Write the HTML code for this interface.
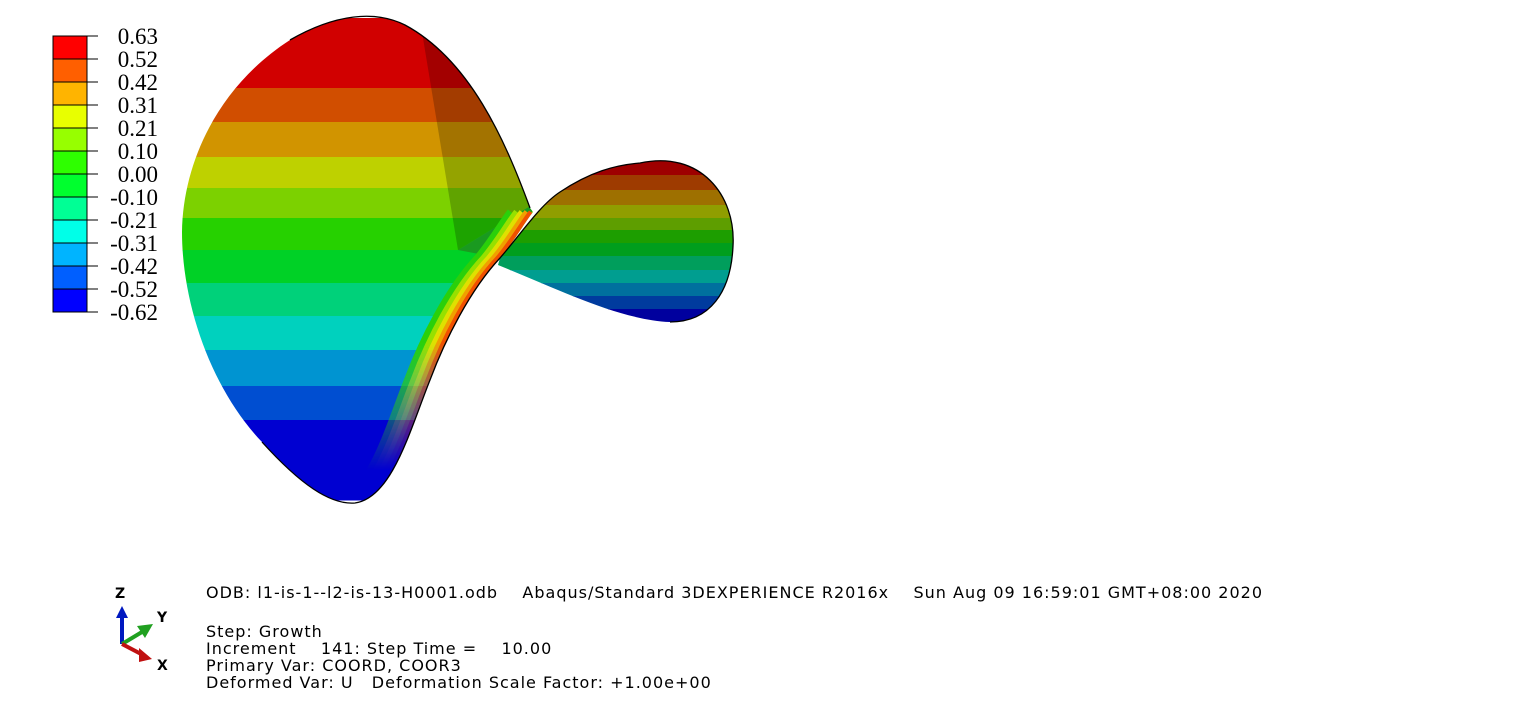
<!DOCTYPE html>
<html><head><meta charset="utf-8"><style>
body{margin:0;background:#fff;width:1526px;height:706px;overflow:hidden;position:relative;font-family:"DejaVu Sans",Verdana,sans-serif}
.info{position:absolute;font-size:16px;letter-spacing:1px;color:#000;white-space:pre;line-height:17px}
</style></head><body>
<svg id="plot" width="1526" height="706" style="position:absolute;left:0;top:0">
<defs>
<clipPath id="leftClip"><path d="M 530,208 C 505,140 470,60 405,25 C 375,10 335,14 290,40 C 220,85 183,160 182,232 C 182,305 212,390 262,442 C 300,484 330,505 355,503 C 392,498 410,430 430,380 C 445,340 470,290 500,258 C 515,240 525,222 533,212 Z"/></clipPath>
<clipPath id="rightClip"><path d="M 500,258 C 520,235 540,205 560,192 C 590,172 615,165 640,163 C 700,150 736,195 733,246 C 731,292 710,322 670,322 C 620,320 560,290 498,265 Z"/></clipPath>
<linearGradient id="fadeGrad" x1="0" y1="0" x2="0" y2="1" gradientUnits="objectBoundingBox">
<stop offset="0" stop-color="#fff"/><stop offset="0.6" stop-color="#fff"/><stop offset="1" stop-color="#000"/>
</linearGradient>
<mask id="stripMask" maskUnits="userSpaceOnUse" x="0" y="0" width="800" height="600"><rect x="300" y="150" width="400" height="320" fill="url(#fadeGrad)"/></mask>
<path id="edgeCurve" d="M 355,503 C 392,498 410,430 430,380 C 445,340 470,290 500,258 C 515,240 525,222 533,212"/>
</defs>
<g id="legend"></g>
<g id="leftLobe" clip-path="url(#leftClip)"></g>
<g id="rightLobe" clip-path="url(#rightClip)"></g>
<g clip-path="url(#leftClip)">
<path d="M 458,250 L 540,200 L 500,258 Z" fill="#1a9a20"/>
<g mask="url(#stripMask)">
<use href="#edgeCurve" transform="translate(-22,0)" fill="none" stroke="#2ad00a" stroke-width="8"/>
<use href="#edgeCurve" transform="translate(-16,0)" fill="none" stroke="#97e000" stroke-width="7"/>
<use href="#edgeCurve" transform="translate(-11,0)" fill="none" stroke="#e0e000" stroke-width="6"/>
<use href="#edgeCurve" transform="translate(-6,0)" fill="none" stroke="#f0a000" stroke-width="6"/>
<use href="#edgeCurve" transform="translate(-2,0)" fill="none" stroke="#f05000" stroke-width="5"/>
</g>
</g>
<path d="M 530,208 C 505,140 470,60 405,25 C 375,10 335,14 290,40 M 262,442 C 300,484 330,505 355,503 C 392,498 410,430 430,380 C 445,340 470,290 500,258 C 520,235 540,205 560,192 C 590,172 615,165 640,163 C 700,150 736,195 733,246 C 731,292 710,322 670,322" fill="none" stroke="#000" stroke-width="1.3"/>
</svg>
<div class="info" style="left:206px;top:584px">ODB: l1-is-1--l2-is-13-H0001.odb    Abaqus/Standard 3DEXPERIENCE R2016x    Sun Aug 09 16:59:01 GMT+08:00 2020</div>
<div class="info" style="left:206px;top:623px">Step: Growth
Increment    141: Step Time =    10.00
Primary Var: COORD, COOR3
Deformed Var: U   Deformation Scale Factor: +1.00e+00</div>
<svg style="position:absolute;left:105px;top:582px" width="70" height="95">
<text x="10" y="16" font-family="DejaVu Sans" font-weight="bold" font-size="14">Z</text>
<text x="52" y="40" font-family="DejaVu Sans" font-weight="bold" font-size="14">Y</text>
<text x="52" y="88" font-family="DejaVu Sans" font-weight="bold" font-size="14">X</text>
<line x1="17" y1="62" x2="17" y2="34" stroke="#0018c0" stroke-width="4"/><polygon points="11,36 23,36 17,24" fill="#0018c0"/>
<line x1="17" y1="62" x2="37" y2="50" stroke="#20a020" stroke-width="4"/><polygon points="32,44 40,56 48,42" fill="#20a020"/>
<line x1="17" y1="62" x2="38" y2="73" stroke="#c01010" stroke-width="4"/><polygon points="34,66 34,80 47,77" fill="#c01010"/>
</svg>
<script>
const legendLabels=["0.63","0.52","0.42","0.31","0.21","0.10","0.00","-0.10","-0.21","-0.31","-0.42","-0.52","-0.62"];
const bandColors=["#ff0000","#ff5f00","#ffb400","#e8ff00","#97ff00","#2eff00","#00ff2e","#00ff95","#00ffe8","#00b4ff","#005fff","#0000ff"];
const leftBandEdges=[18,88,122,157,188,218,250,283,316,350,386,420,500];
const rightBandEdges=[150,175,190,205,218,230,243,256,270,283,296,309,330];
const NS="http://www.w3.org/2000/svg";
const lg=document.getElementById('legend');
const top0=36,bandH=23;
bandColors.forEach((c,i)=>{
 const r=document.createElementNS(NS,'rect');
 r.setAttribute('x',53);r.setAttribute('y',top0+i*bandH);r.setAttribute('width',34);r.setAttribute('height',bandH);
 r.setAttribute('fill',c);r.setAttribute('stroke','#000');r.setAttribute('stroke-width','1');
 
 
 lg.appendChild(r);
});
legendLabels.forEach((t,i)=>{
 const y=top0+i*bandH;
 const l=document.createElementNS(NS,'line');
 l.setAttribute('x1',87);l.setAttribute('x2',98);l.setAttribute('y1',y);l.setAttribute('y2',y);l.setAttribute('stroke','#000');
 lg.appendChild(l);
 const tx=document.createElementNS(NS,'text');
 tx.setAttribute('x',158);tx.setAttribute('y',y+8);tx.setAttribute('text-anchor','end');
 tx.setAttribute('font-family','Liberation Serif, serif');tx.setAttribute('font-size','23');
 tx.textContent=t;
 
 
 lg.appendChild(tx);
});
function shade(hex,f){const n=parseInt(hex.slice(1),16);const r=(n>>16)&255,g=(n>>8)&255,b=n&255;return `rgb(${Math.round(r*f)},${Math.round(g*f)},${Math.round(b*f)})`;}
function bands(gid,edges,f,name){
 const g=document.getElementById(gid);
 bandColors.forEach((c,i)=>{
  const r=document.createElementNS(NS,'rect');
  r.setAttribute('x',150);r.setAttribute('y',edges[i]);r.setAttribute('width',650);r.setAttribute('height',edges[i+1]-edges[i]+0.5);
  r.setAttribute('fill',shade(c,f));
  
  
  g.appendChild(r);
 });
}
bands('leftLobe',leftBandEdges,0.82,'left-contour-band');
bands('rightLobe',rightBandEdges,0.62,'right-contour-band');
const sh=document.createElementNS(NS,'path');
sh.setAttribute('d','M 458,250 L 420,20 L 560,20 L 540,200 Z');sh.setAttribute('fill','#000');sh.setAttribute('opacity','0.22');


document.getElementById('leftLobe').appendChild(sh);
</script>
</body></html>
